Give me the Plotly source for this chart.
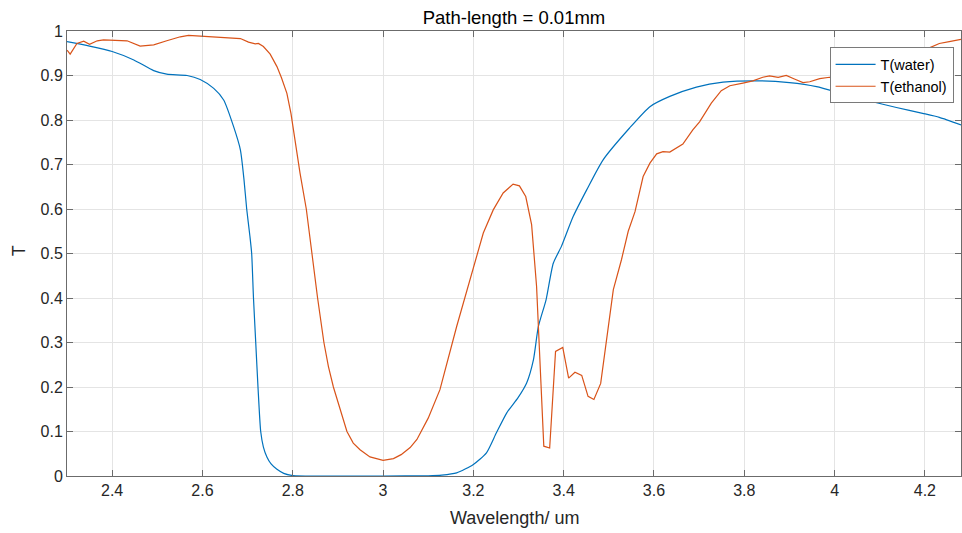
import plotly.graph_objects as go

# Wavelength (um) and transmittance for water
water_wl = [2.30, 2.35, 2.40, 2.448, 2.492, 2.521, 2.566, 2.595, 2.625,
            2.647, 2.669, 2.684, 2.692, 2.698, 2.705, 2.709, 2.713, 2.718, 2.723,
            2.729, 2.735, 2.743, 2.752, 2.765, 2.78, 2.80, 2.90, 3.00, 3.10,
            3.13, 3.163, 3.20, 3.229, 3.251, 3.274, 3.299, 3.318, 3.333, 3.344,
            3.361, 3.377, 3.395, 3.421, 3.451, 3.487, 3.546, 3.591, 3.635, 3.694,
            3.753, 3.834, 3.90, 3.96, 4.018, 4.077, 4.137, 4.195, 4.232, 4.28]
water_T = [0.976, 0.966, 0.954, 0.935, 0.911, 0.903, 0.900, 0.891, 0.871,
           0.845, 0.785, 0.733, 0.666, 0.600, 0.540, 0.500, 0.400, 0.300, 0.200,
           0.100, 0.065, 0.042, 0.027, 0.015, 0.006, 0.001, 0.000, 0.000, 0.0005,
           0.002, 0.007, 0.026, 0.052, 0.097, 0.142, 0.176, 0.209, 0.261, 0.336,
           0.396, 0.478, 0.516, 0.583, 0.643, 0.710, 0.782, 0.830, 0.853, 0.874,
           0.885, 0.888, 0.884, 0.875, 0.859, 0.843, 0.828, 0.815, 0.806, 0.789]

# Wavelength (um) and transmittance for ethanol
eth_wl = [2.30, 2.307, 2.322, 2.337, 2.35, 2.367, 2.381, 2.433, 2.462, 2.492,
          2.521, 2.551, 2.569, 2.602, 2.684, 2.702, 2.717, 2.724, 2.735, 2.75,
          2.765, 2.775, 2.787, 2.796, 2.804, 2.816, 2.83, 2.842, 2.855, 2.869,
          2.879, 2.89, 2.905, 2.92, 2.934, 2.949, 2.971, 3.00, 3.023, 3.04,
          3.06, 3.075, 3.10, 3.126, 3.163,
          3.20, 3.222, 3.244, 3.266, 3.288, 3.302, 3.316, 3.329, 3.34, 3.347,
          3.356, 3.369, 3.382, 3.398, 3.411, 3.425, 3.44, 3.454, 3.467, 3.482,
          3.495, 3.51, 3.528, 3.543, 3.558, 3.576, 3.591, 3.606, 3.62, 3.635,
          3.664, 3.686, 3.701, 3.727, 3.749, 3.768, 3.797, 3.819, 3.841, 3.856,
          3.875, 3.893, 3.911, 3.93, 3.945, 3.967, 3.989, 4.03, 4.08, 4.13,
          4.19, 4.21, 4.232, 4.254, 4.28]
eth_T = [0.957, 0.948, 0.972, 0.977, 0.970, 0.978, 0.980, 0.978, 0.966, 0.969,
         0.978, 0.987, 0.990, 0.988, 0.983, 0.975, 0.971, 0.972, 0.965, 0.948,
         0.920, 0.895, 0.860, 0.815, 0.762, 0.681, 0.600, 0.500, 0.400, 0.300,
         0.246, 0.200, 0.149, 0.100, 0.074, 0.059, 0.043, 0.035, 0.039, 0.048,
         0.064, 0.082, 0.130, 0.194, 0.336,
         0.471, 0.546, 0.598, 0.636, 0.656, 0.652, 0.628, 0.565, 0.426, 0.262,
         0.067, 0.063, 0.280, 0.289, 0.220, 0.233, 0.226, 0.179, 0.172, 0.208,
         0.306, 0.419, 0.486, 0.550, 0.594, 0.673, 0.703, 0.724, 0.729, 0.728,
         0.746, 0.778, 0.796, 0.838, 0.866, 0.877, 0.883, 0.888, 0.896, 0.899,
         0.896, 0.900, 0.892, 0.884, 0.886, 0.893, 0.896, 0.900, 0.915, 0.935,
         0.960, 0.962, 0.972, 0.976, 0.981]

x_ticks = [2.4, 2.6, 2.8, 3.0, 3.2, 3.4, 3.6, 3.8, 4.0, 4.2]
x_tick_labels = ["2.4", "2.6", "2.8", "3", "3.2", "3.4", "3.6", "3.8", "4", "4.2"]
y_ticks = [0, 0.1, 0.2, 0.3, 0.4, 0.5, 0.6, 0.7, 0.8, 0.9, 1.0]
y_tick_labels = ["0", "0.1", "0.2", "0.3", "0.4", "0.5", "0.6", "0.7", "0.8", "0.9", "1"]

assert len(water_wl) == len(water_T)
assert len(eth_wl) == len(eth_T)

FONT = "Liberation Sans, Arial, Helvetica, sans-serif"
AX = "#6b6b6b"
GRID = "#e4e4e4"
TXT = "#262626"

fig = go.Figure()
fig.add_trace(go.Scatter(x=water_wl, y=water_T, mode="lines", name="T(water)",
                         line=dict(color="#0072BD", width=1.2, shape="spline",
                                   smoothing=0.6)))
fig.add_trace(go.Scatter(x=eth_wl, y=eth_T, mode="lines", name="T(ethanol)",
                         line=dict(color="#D95319", width=1.2)))

axis_common = dict(showline=True, linecolor=AX, linewidth=1, mirror="ticks",
                   ticks="inside", ticklen=6, tickcolor=AX, tickwidth=1,
                   showgrid=True, gridcolor=GRID, gridwidth=1, zeroline=False,
                   tickfont=dict(family=FONT, size=16, color=TXT))

fig.update_xaxes(range=[2.3, 4.28], tickvals=x_ticks, ticktext=x_tick_labels, **axis_common)
fig.update_yaxes(range=[0, 1], tickvals=y_ticks, ticktext=y_tick_labels, **axis_common)

fig.update_layout(
    width=962, height=533,
    margin=dict(l=67, r=1, t=31, b=57),
    plot_bgcolor="white", paper_bgcolor="white",
    font=dict(family=FONT, size=16, color=TXT),
    title=dict(text="Path-length = 0.01mm", x=0.5, xref="paper", xanchor="center",
               y=1 - 18 / 533, yref="container", yanchor="middle",
               font=dict(family=FONT, size=18.5, color="#000000")),
    legend=dict(x=0.853, y=0.963, xanchor="left", yanchor="top",
                bgcolor="white", bordercolor="#7a7a7a", borderwidth=1,
                font=dict(family=FONT, size=14.5, color="#000000"),
                itemwidth=40, tracegroupgap=0),
    showlegend=True,
    annotations=[
        dict(text="Wavelength/ um", x=0.5, y=-0.0955, xref="paper", yref="paper",
             xanchor="center", yanchor="middle", showarrow=False,
             font=dict(family=FONT, size=18, color=TXT)),
        dict(text="T", x=(19 - 67) / 894, y=0.505, xref="paper", yref="paper",
             xanchor="center", yanchor="middle", showarrow=False, textangle=-90,
             font=dict(family=FONT, size=18, color=TXT)),
    ],
)

fig.write_html("out.html")
